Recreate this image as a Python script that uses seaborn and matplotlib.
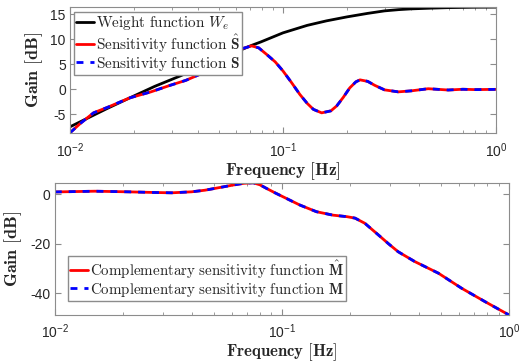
import seaborn as sns
import matplotlib.pyplot as plt
import pandas as pd
import numpy as np

# ---- Data (frequency in Hz, gain in dB) ----
w_freq = [0.0100, 0.0150, 0.0191, 0.0250, 0.0330, 0.0407, 0.0490, 0.0574, 0.0713,
          0.0789, 0.0900, 0.1000, 0.1150, 0.1300, 0.1600, 0.2000, 0.2500, 0.3000,
          0.3500, 0.4000, 0.5000, 0.6000, 0.8000, 1.0000]
w_gain = [-7.5, -3.8, -1.7, 0.6, 2.7, 4.4, 5.8, 7.1, 8.8,
          9.5, 10.5, 11.3, 12.1, 12.8, 13.7, 14.5, 15.2, 15.7,
          15.95, 16.1, 16.25, 16.35, 16.43, 16.45]

s_freq = [0.0100, 0.0112, 0.0129, 0.0150, 0.0191, 0.0240, 0.0295, 0.0350, 0.0407,
          0.0454, 0.0506, 0.0585, 0.0650, 0.0713, 0.0770, 0.0838, 0.0920, 0.1000,
          0.1100, 0.1200, 0.1300, 0.1390, 0.1520, 0.1680, 0.1790, 0.1920, 0.2060,
          0.2200, 0.2300, 0.2500, 0.2700, 0.3000, 0.3480, 0.4000, 0.4810, 0.5970,
          0.7000, 0.8000, 1.0000]
s_gain = [-8.7, -6.8, -4.7, -3.6, -1.7, -0.5, 0.8, 1.8, 3.0,
          4.0, 5.0, 7.0, 8.2, 8.7, 8.3, 7.0, 5.5, 3.7,
          1.3, -1.0, -2.8, -4.0, -4.7, -4.3, -3.3, -1.6, 0.3,
          1.5, 1.9, 1.6, 0.8, -0.1, -0.5, -0.3, 0.13, -0.13,
          0.02, -0.05, 0.0]

m_freq = [0.0100, 0.0150, 0.0210, 0.0270, 0.0327, 0.0400, 0.0458, 0.0533, 0.0610,
          0.0680, 0.0748, 0.0800, 0.0857, 0.0930, 0.1014, 0.1100, 0.1200, 0.1420,
          0.1680, 0.1930, 0.2100, 0.2320, 0.2660, 0.2950, 0.3250, 0.3850, 0.4890,
          0.6190, 0.7840, 1.0000]
m_gain = [1.0, 1.3, 1.05, 0.8, 0.65, 1.05, 1.7, 2.8, 3.8,
          4.5, 4.7, 3.9, 2.4, 0.7, -1.0, -2.6, -4.3, -7.0,
          -8.4, -9.0, -9.6, -11.7, -16.4, -20.0, -23.2, -27.2, -31.9,
          -38.0, -43.4, -48.8]

df_w = pd.DataFrame({"f": w_freq, "g": w_gain})
df_s = pd.DataFrame({"f": s_freq, "g": s_gain})
df_m = pd.DataFrame({"f": m_freq, "g": m_gain})

# ---- Style ----
sns.set_style("ticks")
plt.rcParams["font.family"] = ["Liberation Sans", "DejaVu Sans"]
plt.rcParams["mathtext.fontset"] = "cm"
plt.rcParams["axes.unicode_minus"] = False
plt.rcParams["axes.edgecolor"] = "#8c8c8c"
plt.rcParams["axes.linewidth"] = 0.8

fig = plt.figure(figsize=(5.22, 3.62), dpi=100)
ax1 = fig.add_axes([0.134, 0.633, 0.816, 0.348])
ax2 = fig.add_axes([0.105, 0.130, 0.870, 0.365])

dash = (0, (2.5, 2.5))

sns.lineplot(data=df_w, x="f", y="g", ax=ax1, color="black", linewidth=2,
             label=r"$\mathrm{Weight\ function\ }W_e$")
sns.lineplot(data=df_s, x="f", y="g", ax=ax1, color="red", linewidth=2,
             label=r"$\mathrm{Sensitivity\ function\ }\hat{\mathbf{S}}$")
sns.lineplot(data=df_s, x="f", y="g", ax=ax1, color="blue", linewidth=2,
             linestyle=dash, label=r"$\mathrm{Sensitivity\ function\ }\mathbf{S}$")

sns.lineplot(data=df_m, x="f", y="g", ax=ax2, color="red", linewidth=2,
             label=r"$\mathrm{Complementary\ sensitivity\ function\ }\hat{\mathbf{M}}$")
sns.lineplot(data=df_m, x="f", y="g", ax=ax2, color="blue", linewidth=2,
             linestyle=dash, label=r"$\mathrm{Complementary\ sensitivity\ function\ }\mathbf{M}$")

for ax in (ax1, ax2):
    ax.set_xscale("log")
    ax.set_xlim(0.01, 1)
    ax.set_xlabel(r"$\mathbf{Frequency\ [Hz]}$", fontsize=12.5)
    ax.set_ylabel(r"$\mathbf{Gain\ [dB]}$", fontsize=13)
    ax.tick_params(which="both", direction="in", top=True, right=True,
                   color="#8c8c8c", labelsize=10, labelcolor="#262626")
    ax.tick_params(axis="x", which="major", length=4, pad=6.5)
    ax.tick_params(axis="y", which="major", length=4, pad=3)
    ax.tick_params(which="minor", length=2)
    for sp in ax.spines.values():
        sp.set_visible(True)

ax2.tick_params(axis="x", which="major", pad=5.5)
ax2.set_xlabel(r"$\mathbf{Frequency\ [Hz]}$", fontsize=12)

ax1.xaxis.set_label_coords(0.5, -0.215)
ax1.yaxis.set_label_coords(-0.058, 0.5)
ax2.xaxis.set_label_coords(0.5, -0.2)
ax2.yaxis.set_label_coords(-0.068, 0.5)

ax1.set_ylim(-8.7, 16.5)
ax1.set_yticks([-5, 0, 5, 10, 15])
ax2.set_ylim(-48.8, 4.7)
ax2.set_yticks([-40, -20, 0])

leg_kw = dict(frameon=True, fancybox=False, edgecolor="#8c8c8c",
              framealpha=1, handlelength=1.2, handletextpad=0.1,
              borderpad=0.15, labelspacing=0.0, borderaxespad=0)
ax1.legend(loc="upper left", bbox_to_anchor=(0.009, 0.96), fontsize=11, **leg_kw)
ax2.legend(loc="lower left", bbox_to_anchor=(0.029, 0.106), fontsize=10.8, **leg_kw)

# ---- Save output ----
plt.savefig("out.png", dpi=100)
plt.close()
